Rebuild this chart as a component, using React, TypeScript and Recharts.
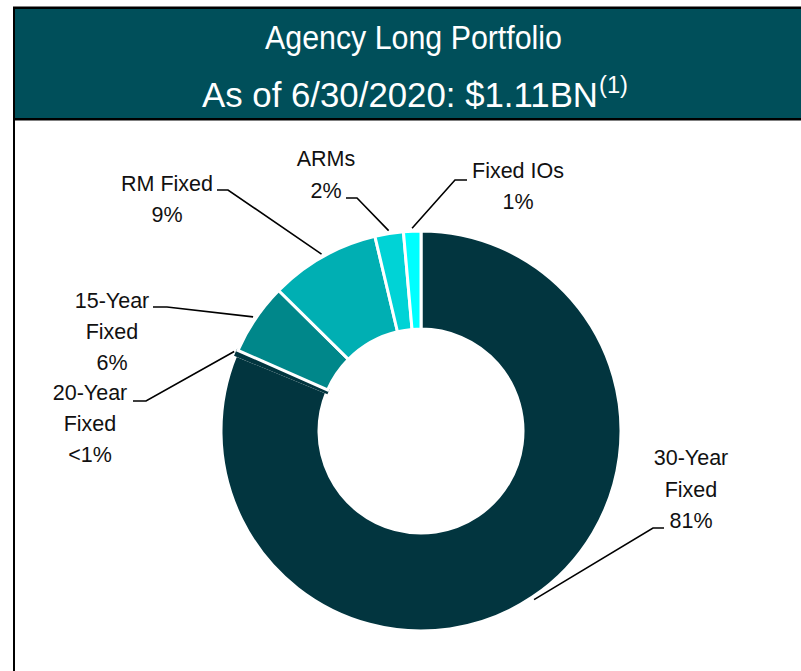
import React from 'react';
import { PieChart, Pie, Cell } from 'recharts';

// Portfolio mix as of 6/30/2020, clockwise from 12 o'clock
const categories = ['30-Year Fixed', '20-Year Fixed', '15-Year Fixed', 'RM Fixed', 'ARMs', 'Fixed IOs'];
const shares = [81.2, 0.4, 5.8, 8.9, 2.3, 1.4];
const shareLabels = ['81%', '<1%', '6%', '9%', '2%', '1%'];
const nameLines = [['30-Year', 'Fixed'], ['20-Year', 'Fixed'], ['15-Year', 'Fixed'], ['RM Fixed'], ['ARMs'], ['Fixed IOs']];

const COLORS = ['#02353f', '#02353f', '#00878a', '#00afb3', '#00d3d6', '#00ffff'];
const HEADER_BG = '#004f5a';
const TITLE_FONT = "'Liberation Sans', Arial, sans-serif";
const LABEL_FONT = "'Liberation Sans', Arial, sans-serif";

// where each callout sits: elbow of the leader, end of its short tail, text centre / first baseline
const CALLOUTS: Record<string, { elbow: [number, number]; end: number; tx: number; ty: number; gap: number }> = {
  '30-Year Fixed': { elbow: [653, 528], end: 664, tx: 691, ty: 465, gap: 31.5 },
  '20-Year Fixed': { elbow: [146, 401], end: 133, tx: 90, ty: 400, gap: 31 },
  '15-Year Fixed': { elbow: [167, 307], end: 153, tx: 112, ty: 308, gap: 31 },
  'RM Fixed': { elbow: [228, 190], end: 217, tx: 167, ty: 191, gap: 31 },
  'ARMs': { elbow: [357, 198], end: 346, tx: 326, ty: 166, gap: 32 },
  'Fixed IOs': { elbow: [455, 180], end: 467, tx: 518, ty: 178, gap: 31 },
};

const chartData = categories.map((name, i) => ({ name, value: shares[i] }));

const RADIAN = Math.PI / 180;

const renderLabel = (props: any) => {
  const { cx, cy, midAngle, outerRadius, index } = props;
  const name = categories[index];
  const c = CALLOUTS[name];
  if (!c) return null;
  const r = outerRadius + 3;
  const sx = cx + r * Math.cos(-midAngle * RADIAN);
  const sy = cy + r * Math.sin(-midAngle * RADIAN);
  const lines = [...nameLines[index], shareLabels[index]];
  return (
    <g key={`lbl-${index}`}>
      <polyline
        points={`${sx},${sy} ${c.elbow[0]},${c.elbow[1]} ${c.end},${c.elbow[1]}`}
        fill="none"
        stroke="#000"
        strokeWidth={1.6}
      />
      <text textAnchor="middle" fontFamily={LABEL_FONT} fontSize={21.5} fill="#111">
        {lines.map((t, k) => (
          <tspan key={k} x={c.tx} y={c.ty + k * c.gap}>{t}</tspan>
        ))}
      </text>
    </g>
  );
};

export default function App() {
  return (
    <div style={{ position: 'absolute', left: 0, top: 0, width: 801, height: 671, background: '#fff', overflow: 'hidden' }}>
      {/* frame: left rule runs full height */}
      <div style={{ position: 'absolute', left: 13, top: 7, width: 2, height: 664, background: '#000' }} />
      <svg width={801} height={122} style={{ position: 'absolute', left: 0, top: 0 }}>
        <rect x={13} y={7} width={788} height={113} fill={HEADER_BG} />
        <rect x={13} y={6.5} width={788} height={2.5} fill="#000" />
        <rect x={13} y={118} width={788} height={2.5} fill="#000" />
        <rect x={13} y={7} width={2} height={114} fill="#000" />
        {/* the original uses a condensed face; squeeze Liberation Sans to the same width */}
        <text x={265} y={49} fill="#fff" fontFamily={TITLE_FONT} fontSize={34}
          textLength={297} lengthAdjust="spacingAndGlyphs">
          Agency Long Portfolio
        </text>
        <text x={202} y={107} fill="#fff" fontFamily={TITLE_FONT} fontSize={34.5}
          textLength={396} lengthAdjust="spacingAndGlyphs">
          As of 6/30/2020: $1.11BN
        </text>
        <text x={599} y={93} fill="#fff" fontFamily={TITLE_FONT} fontSize={23}
          textLength={29} lengthAdjust="spacingAndGlyphs">
          (1)
        </text>
      </svg>
      <div style={{ position: 'absolute', left: 0, top: 0 }}>
        <PieChart width={801} height={671} margin={{ top: 0, right: 0, bottom: 0, left: 0 }}>
          <Pie
            data={chartData}
            dataKey="value"
            nameKey="name"
            cx={421}
            cy={431}
            innerRadius={102}
            outerRadius={200}
            startAngle={90}
            endAngle={-270}
            stroke="#fff"
            strokeWidth={3}
            label={renderLabel}
            labelLine={false}
            isAnimationActive={false}
          >
            {chartData.map((d, i) => (
              // the <1% slice blends into its neighbour, only the gap to 15-Year shows
              <Cell key={d.name} fill={COLORS[i]} stroke={i === 1 ? COLORS[i] : '#fff'} />
            ))}
          </Pie>
        </PieChart>
      </div>
    </div>
  );
}
